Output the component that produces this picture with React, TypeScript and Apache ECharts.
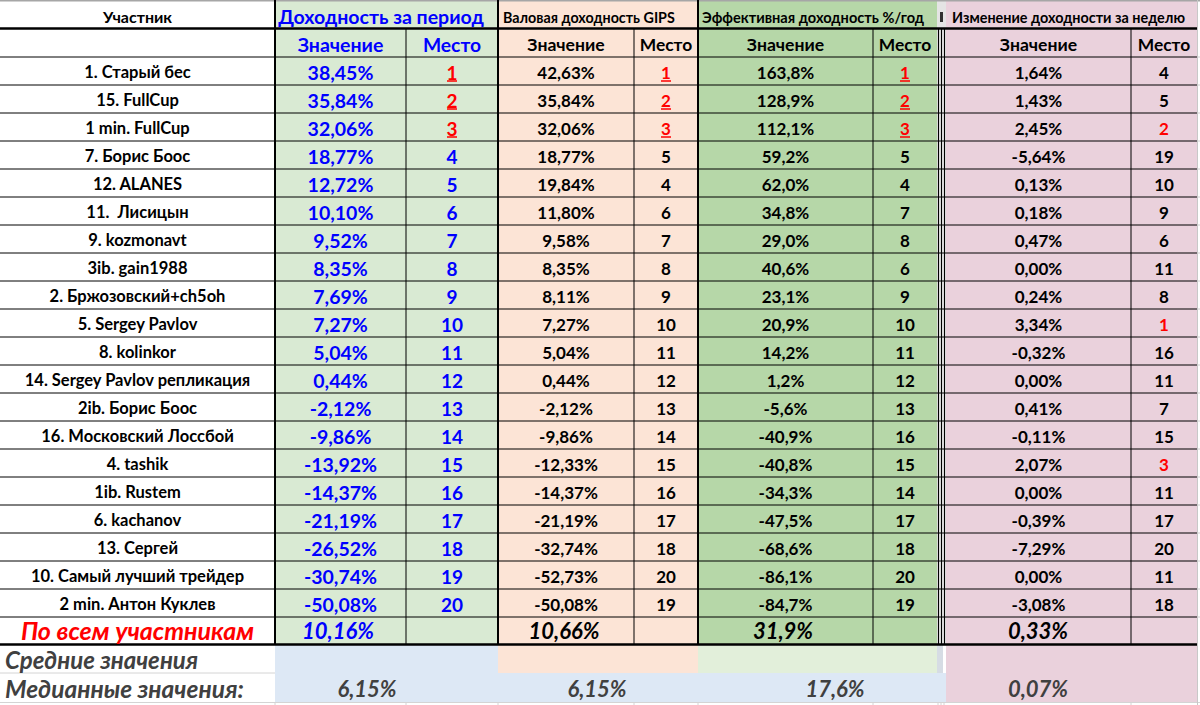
import React, { useEffect, useRef } from "react";
import * as echarts from "echarts";

// ---------- DATA ----------
const participants = [
  "1. Старый бес", "15. FullCup", "1 min. FullCup", "7. Борис Боос", "12. ALANES",
  "11.  Лисицын", "9. kozmonavt", "3ib. gain1988", "2. Бржозовский+ch5oh", "5. Sergey Pavlov",
  "8. kolinkor", "14. Sergey Pavlov репликация", "2ib. Борис Боос", "16. Московский Лоссбой", "4. tashik",
  "1ib. Rustem", "6. kachanov", "13. Сергей", "10. Самый лучший трейдер", "2 min. Антон Куклев",
];
const periodValues = [38.45, 35.84, 32.06, 18.77, 12.72, 10.1, 9.52, 8.35, 7.69, 7.27, 5.04, 0.44, -2.12, -9.86, -13.92, -14.37, -21.19, -26.52, -30.74, -50.08];
const periodPlaces = [1, 2, 3, 4, 5, 6, 7, 8, 9, 10, 11, 12, 13, 14, 15, 16, 17, 18, 19, 20];
const gipsValues = [42.63, 35.84, 32.06, 18.77, 19.84, 11.8, 9.58, 8.35, 8.11, 7.27, 5.04, 0.44, -2.12, -9.86, -12.33, -14.37, -21.19, -32.74, -52.73, -50.08];
const gipsPlaces = [1, 2, 3, 5, 4, 6, 7, 8, 9, 10, 11, 12, 13, 14, 15, 16, 17, 18, 20, 19];
const effValues = [163.8, 128.9, 112.1, 59.2, 62.0, 34.8, 29.0, 40.6, 23.1, 20.9, 14.2, 1.2, -5.6, -40.9, -40.8, -34.3, -47.5, -68.6, -86.1, -84.7];
const effPlaces = [1, 2, 3, 5, 4, 7, 8, 6, 9, 10, 11, 12, 13, 16, 15, 14, 17, 18, 20, 19];
const weekValues = [1.64, 1.43, 2.45, -5.64, 0.13, 0.18, 0.47, 0.0, 0.24, 3.34, -0.32, 0.0, 0.41, -0.11, 2.07, 0.0, -0.39, -7.29, 0.0, -3.08];
const weekPlaces = [4, 5, 2, 19, 10, 9, 6, 11, 8, 1, 16, 11, 7, 15, 3, 11, 17, 20, 11, 18];
const totalValues = [10.16, 10.66, 31.9, 0.33];
const medianValues = [6.15, 6.15, 17.6, 0.07];
const groupHeaders = ["Доходность за период", "Валовая доходность GIPS", "Эффективная доходность %/год", "Изменение доходности за неделю"];
const participantHeader = "Участник";
const valueHeader = "Значение";
const placeHeader = "Место";
const totalLabel = "По всем участникам";
const averageLabel = "Средние значения";
const medianLabel = "Медианные значения:";

// ---------- LAYOUT ----------
const W = 1200, H = 705;
const FONT = "Lato, 'Open Sans', sans-serif";
const C = {
  name: [0, 275], pv: [275, 406], pp: [406, 498], gv: [498, 634], gp: [634, 698],
  ev: [698, 873], ep: [873, 937], wv: [946, 1131], wp: [1131, 1197],
};
const GROUPS = [[275, 498], [498, 698], [698, 937], [946, 1197]];
const GROUP_FILL = ["#d9ead3", "#fce4d6", "#b6d7a8", "#ead1dc"];
const HEAD1 = [1, 29], HEAD2 = [29, 57];
const ROW0 = 57, ROWH = 28;
const TOTAL = [617, 645], AVG = [645, 673], MED = [673, 702];
const BLUE = "#0000ff", RED = "#ff0000", BLACK = "#000000", GRAY = "#404040";
const HEAD_TEXT_X = [381, 503, 702, 952];
const HEAD_FONT_PX = [19.5, 14.3, 14.6, 14.4];
const MEDIAN_TEXT_X = [367, 597, 835, 1038];
const TOTAL_TEXT_X = [338, 564, 783, 1038];

type Cell = {
  x0: number; x1: number; y0: number; y1: number;
  fill?: string; text?: string; font?: string; color?: string;
  underline?: boolean; tx?: number; align?: string; dy?: number;
};
type Seg = { x1: number; y1: number; x2: number; y2: number; w: number; c: string };

const pct = (v: number, d: number) => v.toFixed(d).replace(".", ",") + "%";

function buildFills(): Cell[] {
  const f: Cell[] = [];
  GROUPS.forEach((g, i) => f.push({ x0: g[0], x1: g[1], y0: HEAD1[0], y1: TOTAL[1], fill: GROUP_FILL[i] }));
  f.push({ x0: 937, x1: 946, y0: HEAD1[0], y1: HEAD1[1], fill: "#e4e4e4" });
  f.push({ x0: 940, x1: 943, y0: 12, y1: 22, fill: "#303030" });
  f.push({ x0: 275, x1: 498, y0: AVG[0], y1: AVG[1], fill: "#dde8f5" });
  f.push({ x0: 498, x1: 698, y0: AVG[0], y1: AVG[1], fill: "#fce4d6" });
  f.push({ x0: 698, x1: 937, y0: AVG[0], y1: AVG[1], fill: "#e2efda" });
  f.push({ x0: 937, x1: 943, y0: AVG[0], y1: AVG[1], fill: "#d6dce4" });
  f.push({ x0: 275, x1: 946, y0: MED[0], y1: MED[1], fill: "#dde8f5" });
  f.push({ x0: 946, x1: 1197, y0: AVG[0], y1: MED[1], fill: "#ead1dc" });
  return f;
}

function buildLines(): Seg[] {
  const s: Seg[] = [];
  s.push({ x1: 0, y1: 0.75, x2: W, y2: 0.75, w: 1.5, c: "#a6a6a6" });
  s.push({ x1: 0, y1: 28.5, x2: 1197, y2: 28.5, w: 2.5, c: BLACK });
  for (let i = 0; i <= participants.length; i++) {
    const y = ROW0 + ROWH * i;
    s.push({ x1: 0, y1: y, x2: 1197, y2: y, w: 1, c: BLACK });
    s.push({ x1: 1197, y1: y, x2: W, y2: y, w: 1, c: "#d0d0d0" });
  }
  s.push({ x1: 0, y1: 644.5, x2: 1197, y2: 644.5, w: 2.5, c: BLACK });
  s.push({ x1: 0, y1: 673, x2: 275, y2: 673, w: 1, c: "#d4d4d4" });
  s.push({ x1: 0, y1: 702.5, x2: W, y2: 702.5, w: 1, c: "#d4d4d4" });
  [275, 498, 698].forEach((x) => s.push({ x1: x, y1: 0, x2: x, y2: 645, w: 2, c: BLACK }));
  [406, 634, 873, 1131].forEach((x) => s.push({ x1: x, y1: 29, x2: x, y2: 645, w: 1, c: BLACK }));
  [938.5, 941.5, 944.5].forEach((x) => s.push({ x1: x, y1: 29, x2: x, y2: 645, w: 1.3, c: BLACK }));
  s.push({ x1: 1197.5, y1: 0, x2: 1197.5, y2: H, w: 1, c: "#c8c8c8" });
  [275, 406, 498, 634, 698, 873, 938, 941, 944, 1131].forEach((x) =>
    s.push({ x1: x, y1: 702, x2: x, y2: H, w: 1, c: "#d4d4d4" })
  );
  return s;
}

function buildTexts(): Cell[] {
  const t: Cell[] = [];
  const b = (px: number) => `bold ${px}px ${FONT}`;
  const bi = (px: number) => `italic bold ${px}px ${FONT}`;
  // header 1
  t.push({ x0: 0, x1: 275, y0: HEAD1[0], y1: HEAD1[1], text: participantHeader, font: b(16), color: BLACK, dy: 1 });
  t.push({ x0: 275, x1: 498, y0: HEAD1[0], y1: HEAD1[1], text: groupHeaders[0], font: b(HEAD_FONT_PX[0]), color: BLUE, tx: HEAD_TEXT_X[0], dy: 1 });
  for (let g = 1; g < 4; g++) {
    t.push({ x0: GROUPS[g][0], x1: GROUPS[g][1], y0: HEAD1[0], y1: HEAD1[1], text: groupHeaders[g], font: b(HEAD_FONT_PX[g]), color: BLACK, tx: HEAD_TEXT_X[g], align: "left", dy: 2 });
  }
  // header 2
  const sub: [number[], string, string, number][] = [
    [C.pv, valueHeader, BLUE, 19.5], [C.pp, placeHeader, BLUE, 19.3],
    [C.gv, valueHeader, BLACK, 17.6], [C.gp, placeHeader, BLACK, 17.4],
    [C.ev, valueHeader, BLACK, 17.6], [C.ep, placeHeader, BLACK, 17.4],
    [C.wv, valueHeader, BLACK, 17.6], [C.wp, placeHeader, BLACK, 17.4],
  ];
  sub.forEach(([c, s, col, px]) => t.push({ x0: c[0], x1: c[1], y0: HEAD2[0], y1: HEAD2[1], text: s, font: b(px), color: col, dy: 1 }));
  // data rows
  participants.forEach((name, i) => {
    const y0 = ROW0 + ROWH * i, y1 = y0 + ROWH;
    const cell = (c: number[], text: string, color: string, px: number, underline = false) =>
      t.push({ x0: c[0], x1: c[1], y0, y1, text, font: b(px), color, underline, dy: 1 });
    cell(C.name, name, BLACK, 16.5);
    cell(C.pv, pct(periodValues[i], 2), BLUE, 19.5);
    cell(C.pp, String(periodPlaces[i]), periodPlaces[i] <= 3 ? RED : BLUE, 19, periodPlaces[i] <= 3);
    cell(C.gv, pct(gipsValues[i], 2), BLACK, 17);
    cell(C.gp, String(gipsPlaces[i]), gipsPlaces[i] <= 3 ? RED : BLACK, 17, gipsPlaces[i] <= 3);
    cell(C.ev, pct(effValues[i], 1), BLACK, 17);
    cell(C.ep, String(effPlaces[i]), effPlaces[i] <= 3 ? RED : BLACK, 17, effPlaces[i] <= 3);
    cell(C.wv, pct(weekValues[i], 2), BLACK, 17);
    cell(C.wp, String(weekPlaces[i]), weekPlaces[i] <= 3 ? RED : BLACK, 17);
  });
  // total row
  t.push({ x0: 0, x1: 275, y0: TOTAL[0], y1: TOTAL[1], text: totalLabel, font: bi(25), color: RED, dy: -1 });
  const totDigits = [2, 2, 1, 2];
  totalValues.forEach((v, g) =>
    t.push({ x0: GROUPS[g][0], x1: GROUPS[g][1], y0: TOTAL[0], y1: TOTAL[1], text: pct(v, totDigits[g]), font: bi(22), color: g === 0 ? BLUE : BLACK, tx: TOTAL_TEXT_X[g], dy: -1 })
  );
  // average / median rows
  t.push({ x0: 0, x1: 275, y0: AVG[0], y1: AVG[1], text: averageLabel, font: bi(24), color: GRAY, tx: 5, align: "left", dy: 0 });
  t.push({ x0: 0, x1: 275, y0: MED[0], y1: MED[1], text: medianLabel, font: bi(24.5), color: GRAY, tx: 5, align: "left", dy: 1 });
  medianValues.forEach((v, g) =>
    t.push({ x0: GROUPS[g][0], x1: GROUPS[g][1], y0: MED[0], y1: MED[1], text: pct(v, totDigits[g]), font: bi(22), color: GRAY, tx: MEDIAN_TEXT_X[g], dy: 1 })
  );
  return t;
}

function cellRenderer(cells: Cell[]) {
  return (params: any, api: any) => {
    const c = cells[params.dataIndex];
    const a = api.coord([c.x0, c.y0]);
    const e = api.coord([c.x1, c.y1]);
    const children: any[] = [];
    if (c.fill) {
      children.push({ type: "rect", shape: { x: a[0], y: a[1], width: e[0] - a[0], height: e[1] - a[1] }, style: { fill: c.fill } });
    }
    if (c.text) {
      const tx = c.tx != null ? api.coord([c.tx, c.y0])[0] : (a[0] + e[0]) / 2;
      const ty = (a[1] + e[1]) / 2 + (c.dy || 0);
      const al = c.align || "center";
      children.push({
        type: "text", x: tx, y: ty,
        style: { text: c.text, font: c.font, fill: c.color, align: al, verticalAlign: "middle", textAlign: al, textVerticalAlign: "middle" },
      });
      if (c.underline) {
        const hw = c.text.length * 5;
        children.push({ type: "line", shape: { x1: tx - hw, y1: ty + 9, x2: tx + hw, y2: ty + 9 }, style: { stroke: c.color, lineWidth: 1.5 } });
      }
    }
    return { type: "group", children };
  };
}

function lineRenderer(segs: Seg[]) {
  return (params: any, api: any) => {
    const s = segs[params.dataIndex];
    const p = api.coord([s.x1, s.y1]);
    const q = api.coord([s.x2, s.y2]);
    return { type: "line", shape: { x1: p[0], y1: p[1], x2: q[0], y2: q[1] }, style: { stroke: s.c, lineWidth: s.w } };
  };
}

export default function App() {
  const ref = useRef<HTMLDivElement>(null);
  useEffect(() => {
    if (!ref.current) return;
    const chart = echarts.init(ref.current, undefined, { renderer: "svg" });
    const fills = buildFills();
    const lines = buildLines();
    const texts = buildTexts();
    const cellData = (cs: Cell[]) => cs.map((c) => [c.x0, c.y0, c.x1, c.y1]);
    chart.setOption({
      animation: false,
      backgroundColor: "#ffffff",
      grid: { left: 0, right: 0, top: 0, bottom: 0 },
      xAxis: { type: "value", min: 0, max: W, show: false },
      yAxis: { type: "value", min: 0, max: H, inverse: true, show: false },
      series: [
        { type: "custom", silent: true, clip: false, z: 1, data: cellData(fills), encode: { x: [0, 2], y: [1, 3] }, renderItem: cellRenderer(fills) },
        { type: "custom", silent: true, clip: false, z: 2, data: lines.map((s) => [s.x1, s.y1, s.x2, s.y2]), encode: { x: [0, 2], y: [1, 3] }, renderItem: lineRenderer(lines) },
        { type: "custom", silent: true, clip: false, z: 3, data: cellData(texts), encode: { x: [0, 2], y: [1, 3] }, renderItem: cellRenderer(texts) },
      ],
    });
    return () => chart.dispose();
  }, []);
  return <div ref={ref} style={{ position: "absolute", left: 0, top: 0, width: W, height: H }} />;
}
